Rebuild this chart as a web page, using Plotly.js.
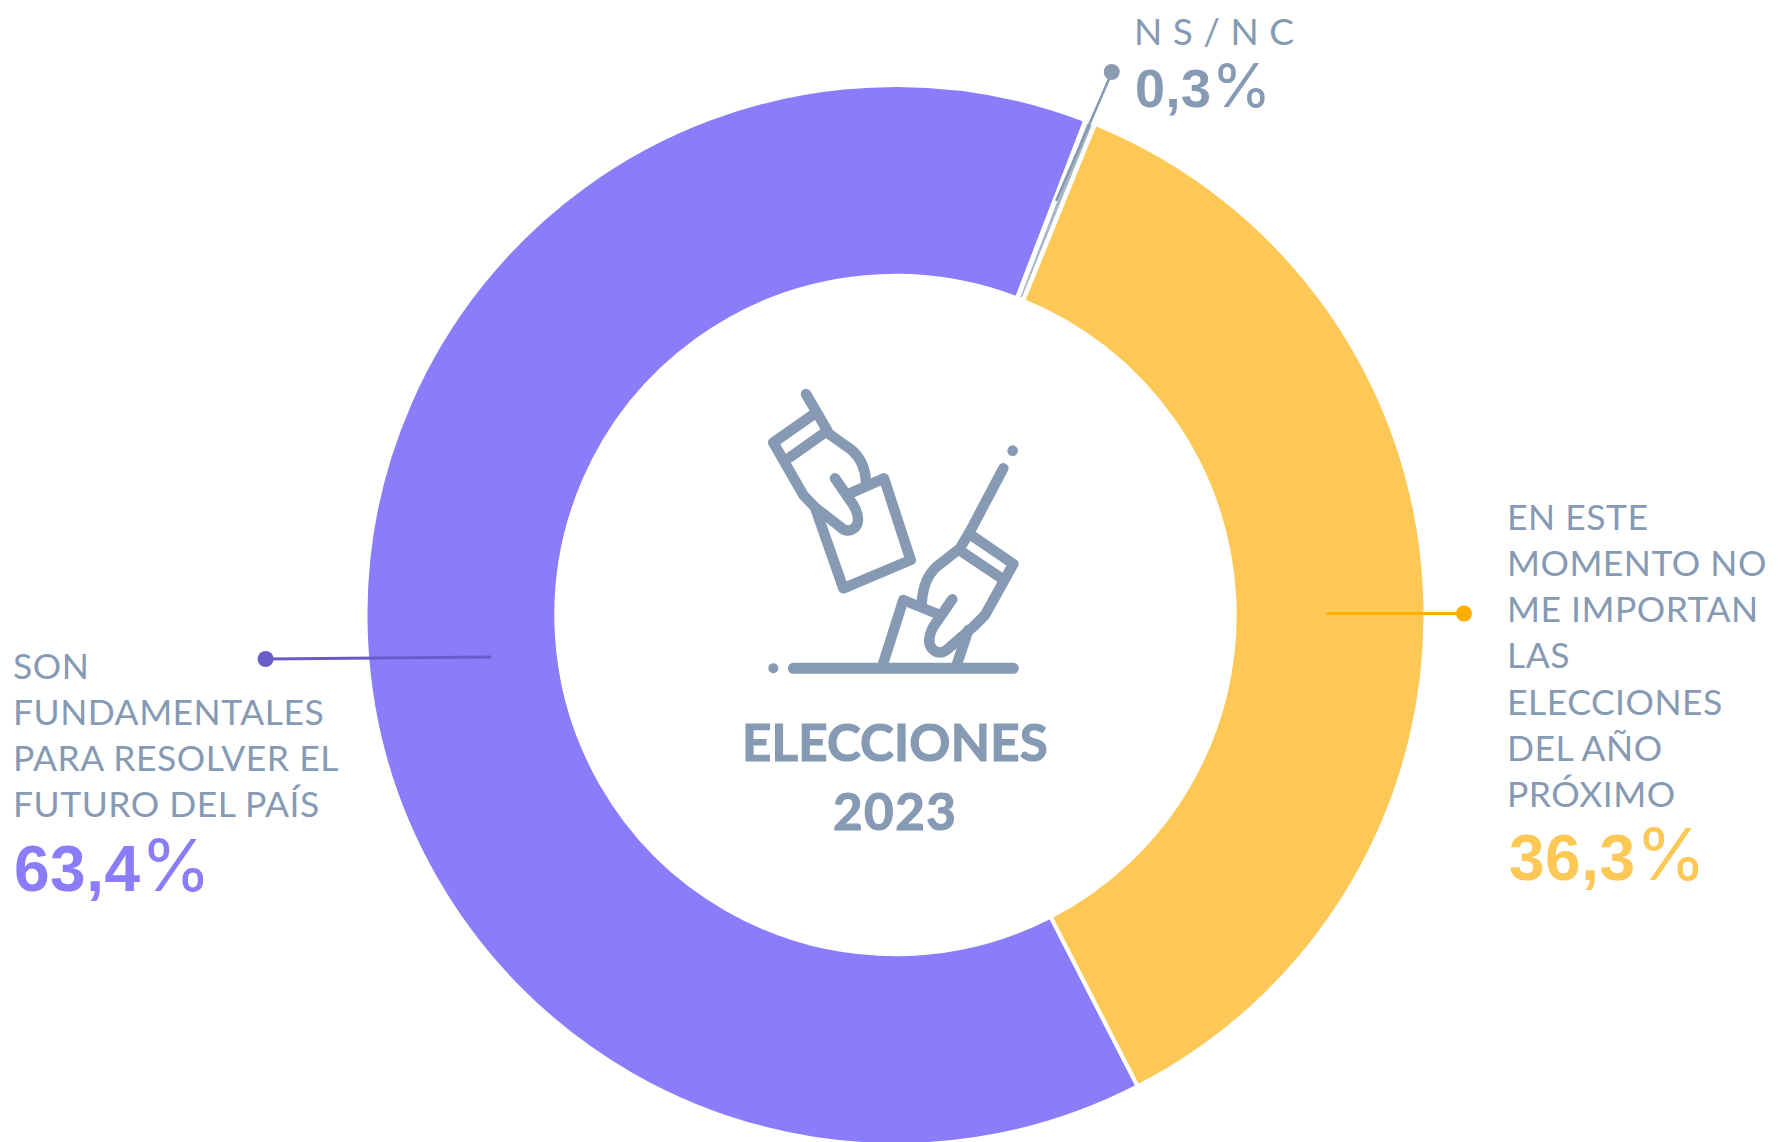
<!DOCTYPE html>
<html><head><meta charset="utf-8">
<script src="https://cdn.plot.ly/plotly-3.0.1.min.js"></script>
<style>
html,body{margin:0;padding:0;background:#fff;overflow:hidden;height:1142px}
#chart{width:1782px;height:1146px}
.shapelayer path{stroke-linecap:round;stroke-linejoin:round}
.annotation[data-index="0"] text,.annotation[data-index="1"] text{letter-spacing:.5px}
.annotation[data-index="2"] text{letter-spacing:10.5px}
.annotation[data-index="6"] text{stroke:#869AB3;stroke-width:1.2px;letter-spacing:.2px}
.annotation[data-index="7"] text{stroke:#869AB3;stroke-width:1.2px;letter-spacing:1.5px}
</style></head><body><div id="chart"></div>
<script>
const W=1782,H=1146;
const categories=["SON<br>FUNDAMENTALES<br>PARA RESOLVER EL<br>FUTURO DEL PAÍS","EN ESTE<br>MOMENTO NO<br>ME IMPORTAN<br>LAS<br>ELECCIONES<br>DEL AÑO<br>PRÓXIMO","NS/NC"];
const sliceNames=["Son fundamentales para resolver el futuro del país","NS/NC","En este momento no me importan las elecciones del año próximo"];
const sliceValues=[63.4,0.3,36.3];
const sliceColors=["#8B7CFA","#A9B6C6","#FDC855"];
const sliceLines=[4,5,4];
const pctValues=[63.4,36.3,0.3];
const pctColors=["#8B7CFA","#FDC855","#869AB3"];
const titleLines=["ELECCIONES","2023"];
const labelColor="#869AB3";
const labelFont="Lato, sans-serif";

const px=x=>x/W, py=y=>1-y/H;
const fmt=v=>v.toFixed(1).replace(".",",");
function pct(v,digitSize,signSize){
  return "<span style=\"font-family:'Liberation Sans';font-weight:700;letter-spacing:.5px;font-size:"+digitSize+"px\">"+fmt(v)+"</span>"+
         "<span style=\"font-family:Inter;font-weight:400;font-size:"+signSize+"px\">%</span>";
}
function ann(text,x,top,size,color,anchor){
  return {text,xref:"paper",yref:"paper",x:px(x),y:py(top),xanchor:anchor||"left",yanchor:"top",showarrow:false,align:anchor==="center"?"center":"left",
    font:{family:labelFont,size,color},borderpad:0};
}
const annotations=[
  ann(categories[0],12,643,35.5,labelColor),
  ann(categories[1],1506,494,35.5,labelColor),
  ann(categories[2],1133,7,37,labelColor),
  ann(pct(pctValues[0],64,72),13,819.5,74,pctColors[0]),
  ann(pct(pctValues[1],64,72),1508,808.5,74,pctColors[1]),
  ann(pct(pctValues[2],54,61),1134,47,62,pctColors[2]),
  ann("<b>"+titleLines[0]+"</b>",894.5,709.5,51,labelColor,"center"),
  ann("<b>"+titleLines[1]+"</b>",894.5,779,51,labelColor,"center")
];

function seg(x1,y1,x2,y2,color,w){return {type:"line",xref:"paper",yref:"paper",x0:px(x1),y0:py(y1),x1:px(x2),y1:py(y2),line:{color,width:w}};}
function dot(x,y,r,color){return {type:"circle",xref:"paper",yref:"paper",x0:px(x-r),x1:px(x+r),y0:py(y+r),y1:py(y-r),fillcolor:color,line:{width:0}};}

// icon outline, drawn in the coordinates of a 3x crop anchored at (740,370)
const iconPaths=[
 "M198 72 L262 182 M225 130 L100 218 L190 375 L225 412 L300 470 C322 492 352 480 354 450 C355 430 345 415 340 405 L285 325",
 "M150 262 L258 185 L335 240 Q375 275 378 335",
 "M225 412 L310 655 L512 570 L432 325 L330 370",
 "M790 295 L695 475 L660 535 L590 590 Q550 625 545 700",
 "M700 500 L820 582 L735 735 L700 770 L620 840 C595 858 565 840 568 805 C570 790 575 778 580 770 L637 688",
 "M665 545 L785 625",
 "M428 885 L490 690 L600 735",
 "M650 885 L685 780"
];
function iconPath(d){
  return d.replace(/(-?\d+(?:\.\d+)?) (-?\d+(?:\.\d+)?)/g,(m,a,b)=>px(740+a/3).toFixed(6)+" "+py(370+b/3).toFixed(6));
}
const iconColor="#869AB3";
const shapes=[
  seg(490,657,265,659,"#6A5CC8",3),dot(265.6,659,8,"#6A5CC8"),
  seg(1328,613.5,1464,613.5,"#FFAE00",3),dot(1464,613.5,8,"#FFAE00"),
  seg(1056.5,200,1112,72,"#8599B2",2.5),dot(1111.7,72,8,"#8A9BB2"),
  ...iconPaths.map(d=>({type:"path",xref:"paper",yref:"paper",path:iconPath(d),line:{color:iconColor,width:10.5}})),
  seg(740+160/3,370+895/3,740+820/3,370+895/3,iconColor,11),
  dot(740+100/3,370+895/3,5,iconColor),
  dot(740+818/3,370+242/3,5.3,iconColor)
];

Plotly.newPlot("chart",[{
  type:"pie",labels:sliceNames,values:sliceValues,sort:false,direction:"clockwise",rotation:152.8,hole:0.64,
  marker:{colors:sliceColors,line:{color:"#fff",width:sliceLines}},
  textinfo:"none",showlegend:false,
  domain:{x:[px(895.5-530),px(895.5+530)],y:[py(85+1060),py(85)]}
}],{
  width:W,height:H,margin:{l:0,r:0,t:0,b:0},paper_bgcolor:"#fff",showlegend:false,annotations,shapes
},{displayModeBar:false,responsive:false});
</script></body></html>
